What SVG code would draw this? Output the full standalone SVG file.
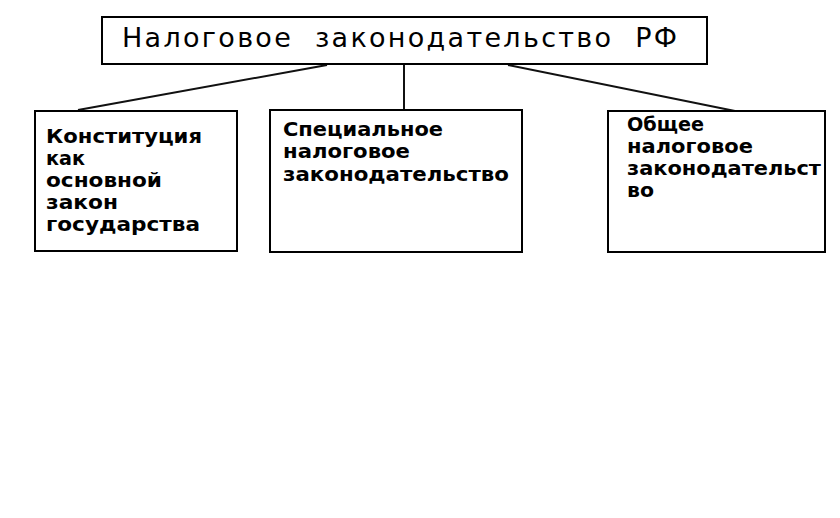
<svg xmlns="http://www.w3.org/2000/svg" width="840" height="518" viewBox="0 0 840 518">
<style>
.box{fill:#fff;stroke:#000;stroke-width:2}
.conn{stroke:#111;stroke-width:2;fill:none}
.title{font-family:"DejaVu Sans",sans-serif;font-size:27px;fill:#000}
.lbl{font-family:"DejaVu Sans",sans-serif;font-weight:bold;font-size:20px;fill:#000}
</style>
<rect width="840" height="518" fill="#fff"/>
<g id="connectors">
<line class="conn" x1="327" y1="65" x2="78" y2="110"/>
<line class="conn" x1="404" y1="64" x2="404" y2="110"/>
<line class="conn" x1="508" y1="65" x2="735" y2="111"/>
</g>
<g id="root">
<rect class="box" x="102" y="17" width="605" height="47"/>
<text class="title" x="122" y="47" textLength="555" lengthAdjust="spacing" xml:space="preserve">Налоговое  законодательство  РФ</text>
</g>
<g id="constitution">
<rect class="box" x="35" y="111" width="202" height="140"/>
<text class="lbl" x="46" y="143" textLength="156" lengthAdjust="spacingAndGlyphs">Конституция</text>
<text class="lbl" x="46" y="165" textLength="39" lengthAdjust="spacingAndGlyphs">как</text>
<text class="lbl" x="46" y="187" textLength="116" lengthAdjust="spacingAndGlyphs">основной</text>
<text class="lbl" x="46" y="209" textLength="72" lengthAdjust="spacingAndGlyphs">закон</text>
<text class="lbl" x="46" y="231" textLength="154" lengthAdjust="spacingAndGlyphs">государства</text>
</g>
<g id="special">
<rect class="box" x="270" y="110" width="252" height="142"/>
<text class="lbl" x="283" y="136" textLength="160" lengthAdjust="spacingAndGlyphs">Специальное</text>
<text class="lbl" x="283" y="158" textLength="127" lengthAdjust="spacingAndGlyphs">налоговое</text>
<text class="lbl" x="283" y="181" textLength="226" lengthAdjust="spacingAndGlyphs">законодательство</text>
</g>
<g id="general">
<rect class="box" x="608" y="111" width="217" height="141"/>
<text class="lbl" x="627" y="131" textLength="77" lengthAdjust="spacingAndGlyphs">Общее</text>
<text class="lbl" x="627" y="153" textLength="126" lengthAdjust="spacingAndGlyphs">налоговое</text>
<text class="lbl" x="627" y="175" textLength="194" lengthAdjust="spacingAndGlyphs">законодательст</text>
<text class="lbl" x="627" y="197" textLength="27" lengthAdjust="spacingAndGlyphs">во</text>
</g>
</svg>
